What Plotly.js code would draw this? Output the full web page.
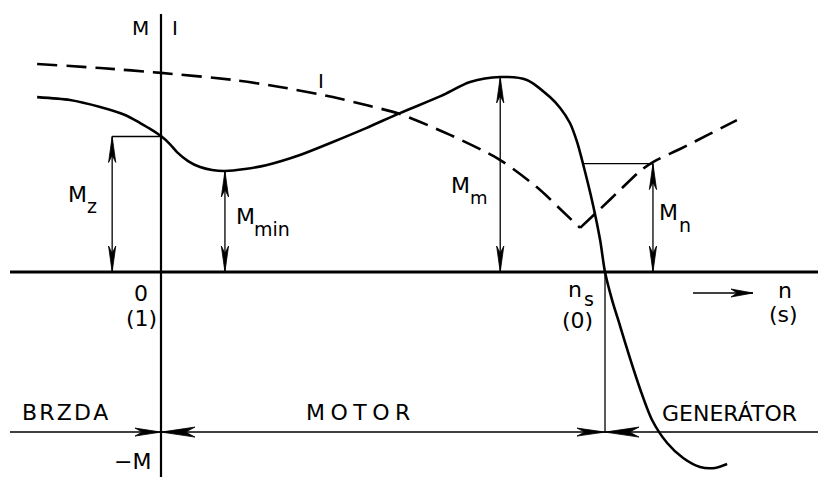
<!DOCTYPE html>
<html>
<head>
<meta charset="utf-8">
<script src="https://cdn.plot.ly/plotly-3.0.1.min.js"></script>
<style>
  html, body { margin: 0; padding: 0; background: #fff; }
  #chart { width: 818px; height: 477px; }
</style>
</head>
<body>
<div id="chart"></div>
<script>
// Torque curve M(n): n relative to synchronous speed (ns = 1), M relative to Mm (= 1)
const nTorque = [-0.279, -0.205, -0.137, -0.081, -0.047, -0.020, 0, 0.020, 0.036, 0.061, 0.088, 0.115, 0.144,
    0.189, 0.239, 0.313, 0.387, 0.462, 0.538, 0.631, 0.696, 0.764, 0.824, 0.876, 0.899, 0.921, 0.937,
    0.950, 0.973, 0.989, 1.000, 1.016, 1.034, 1.056, 1.079, 1.106, 1.140, 1.176, 1.214, 1.248, 1.275];
const mTorque = [0.897, 0.882, 0.846, 0.805, 0.764, 0.728, 0.697, 0.656, 0.615, 0.569, 0.538, 0.523, 0.518,
    0.528, 0.549, 0.600, 0.667, 0.738, 0.815, 0.903, 0.974, 1.000, 0.985, 0.897, 0.841, 0.764, 0.667,
    0.559, 0.344, 0.164, 0, -0.144, -0.277, -0.441, -0.600, -0.759, -0.877, -0.954, -1.000, -1.005, -0.985];

// Current curve I(n), dashed, two branches meeting at the V near ns
const nCurrentLeft = [-0.279, -0.137, 0, 0.162, 0.268, 0.387, 0.471, 0.538, 0.651, 0.764, 0.854, 0.899, 0.944];
const iCurrentLeft = [1.067, 1.046, 1.021, 0.985, 0.949, 0.897, 0.851, 0.810, 0.703, 0.574, 0.421, 0.323, 0.226];
const nCurrentRight = [0.944, 0.989, 1.034, 1.079, 1.108, 1.169, 1.236, 1.297];
const iCurrentRight = [0.226, 0.323, 0.421, 0.518, 0.564, 0.631, 0.708, 0.779];

// Marked torques
const M_Z = 0.695, N_MZ = -0.110;        // starting torque, dimension line position
const M_MIN = 0.518, N_MIN = 0.144;      // pull-up torque
const M_M = 1.0, N_MM = 0.764;           // breakdown torque
const M_N = 0.556, N_MN0 = 0.950, N_MN = 1.108; // rated torque
const N_S = 1.0;
const M_BOTTOM = -0.821;                 // line of operating regions

const N_RANGE = [-0.3626, 1.4797];
const M_RANGE = [-1.0513, 1.3949];
const W = 818, H = 477;
const SX = W / (N_RANGE[1] - N_RANGE[0]);
const SY = H / (M_RANGE[1] - M_RANGE[0]);

const FONT = 'DejaVu Sans, Liberation Sans, sans-serif';

// pixel position -> paper coords (margins are zero)
function P(px, py) { return { x: px / W, y: 1 - py / H }; }

function label(text, px, py, size, extra) {
    const p = P(px, py);
    return Object.assign({
        xref: 'paper', yref: 'paper', x: p.x, y: p.y, text: text, showarrow: false,
        xanchor: 'center', yanchor: 'middle',
        font: { family: FONT, size: size, color: '#000' }
    }, extra || {});
}

// filled narrow arrow head, tip in data coords, direction in screen px
function head(tn, tm, dx, dy, L, Wd) {
    const pts = [
        [0, 0],
        [-dx * L - dy * Wd, -dy * L + dx * Wd],
        [-dx * L * 0.72, -dy * L * 0.72],
        [-dx * L + dy * Wd, -dy * L - dx * Wd]
    ].map(([ox, oy]) => (tn + ox / SX).toFixed(5) + ',' + (tm - oy / SY).toFixed(5));
    return {
        type: 'path', xref: 'x', yref: 'y',
        path: 'M' + pts.join(' L') + ' Z',
        fillcolor: '#000', line: { color: '#000', width: 0.8 }
    };
}

function line(x0, y0, x1, y1, width, refs) {
    return Object.assign({
        type: 'line', xref: 'x', yref: 'y', x0: x0, y0: y0, x1: x1, y1: y1,
        line: { color: '#000', width: width }
    }, refs || {});
}

function dimension(n, top) {
    return [
        line(n, 0, n, top, 1.3),
        head(n, top, 0, -1, 26, 3.6),
        head(n, 0, 0, 1, 26, 3.6)
    ];
}

const shapes = [
    // axes
    line(10 / W, 0, 1, 0, 2.8, { xref: 'paper' }),
    line(0, 0, 0, 1 - 14 / H, 2.2, { yref: 'paper' }),
    // bottom line with region arrows
    line(10 / W, M_BOTTOM, 1, M_BOTTOM, 1.5, { xref: 'paper' }),
    line(N_S, 0, N_S, M_BOTTOM, 1.3),
    head(0, M_BOTTOM, 1, 0, 26, 4),
    head(0, M_BOTTOM, -1, 0, 34, 5),
    head(N_S, M_BOTTOM, 1, 0, 28, 4),
    head(N_S, M_BOTTOM, -1, 0, 34, 5),
    // M_z and M_n leaders
    line(N_MZ, M_Z, 0, M_Z, 1.3),
    line(N_MN0, M_N, N_MN, M_N, 1.3),
    ...dimension(N_MZ, M_Z),
    ...dimension(N_MIN, M_MIN),
    ...dimension(N_MM, M_M),
    ...dimension(N_MN, M_N),
    // direction arrow next to n
    line((693 - 161) / SX, -21 / SY, (753 - 161) / SX, -21 / SY, 1.6),
    head((753 - 161) / SX, -21 / SY, 1, 0, 22, 4)
];

const annotations = [
    label('M', 140, 28, 20),
    label('I', 175, 28, 20),
    label('I', 321, 81, 20),
    label('M', 77, 194, 22), label('z', 92, 206, 19),
    label('M', 245, 216, 22), label('min', 272, 229, 19),
    label('M', 461, 185, 22), label('m', 479, 197, 18),
    label('M', 668, 212, 22), label('n', 685, 225, 19),
    label('0', 141, 293, 22),
    label('(1)', 141, 318, 22),
    label('n', 575, 289, 22), label('s', 589, 299, 19),
    label('(0)', 577, 320, 22),
    label('n', 785, 290, 22),
    label('(s)', 783, 314, 22),
    label('B\u200aR\u200aZ\u200aD\u200aA', 65, 412, 22),
    label('M\u2005O\u2005T\u2005O\u2005R', 358, 412, 22),
    label('GENERÁTOR', 729, 413, 22),
    label('\u2212M', 132, 461, 22)
];

const traces = [
    {
        x: nTorque, y: mTorque, type: 'scatter', mode: 'lines',
        line: { color: '#000', width: 2.6, shape: 'spline', smoothing: 0.8 },
        hoverinfo: 'skip'
    },
    {
        x: nCurrentLeft, y: iCurrentLeft, type: 'scatter', mode: 'lines',
        line: { color: '#000', width: 2.6, dash: '20px,9px', shape: 'spline', smoothing: 0.8 },
        hoverinfo: 'skip'
    },
    {
        x: nCurrentRight, y: iCurrentRight, type: 'scatter', mode: 'lines',
        line: { color: '#000', width: 2.6, dash: '20px,9px', shape: 'spline', smoothing: 0.8 },
        hoverinfo: 'skip'
    }
];

const layout = {
    width: W, height: H,
    margin: { l: 0, r: 0, t: 0, b: 0, pad: 0 },
    paper_bgcolor: '#fff', plot_bgcolor: '#fff',
    showlegend: false,
    xaxis: { range: N_RANGE, visible: false, showgrid: false, zeroline: false, fixedrange: true },
    yaxis: { range: M_RANGE, visible: false, showgrid: false, zeroline: false, fixedrange: true },
    shapes: shapes,
    annotations: annotations
};

Plotly.newPlot('chart', traces, layout, { displayModeBar: false, staticPlot: true });
</script>
</body>
</html>
